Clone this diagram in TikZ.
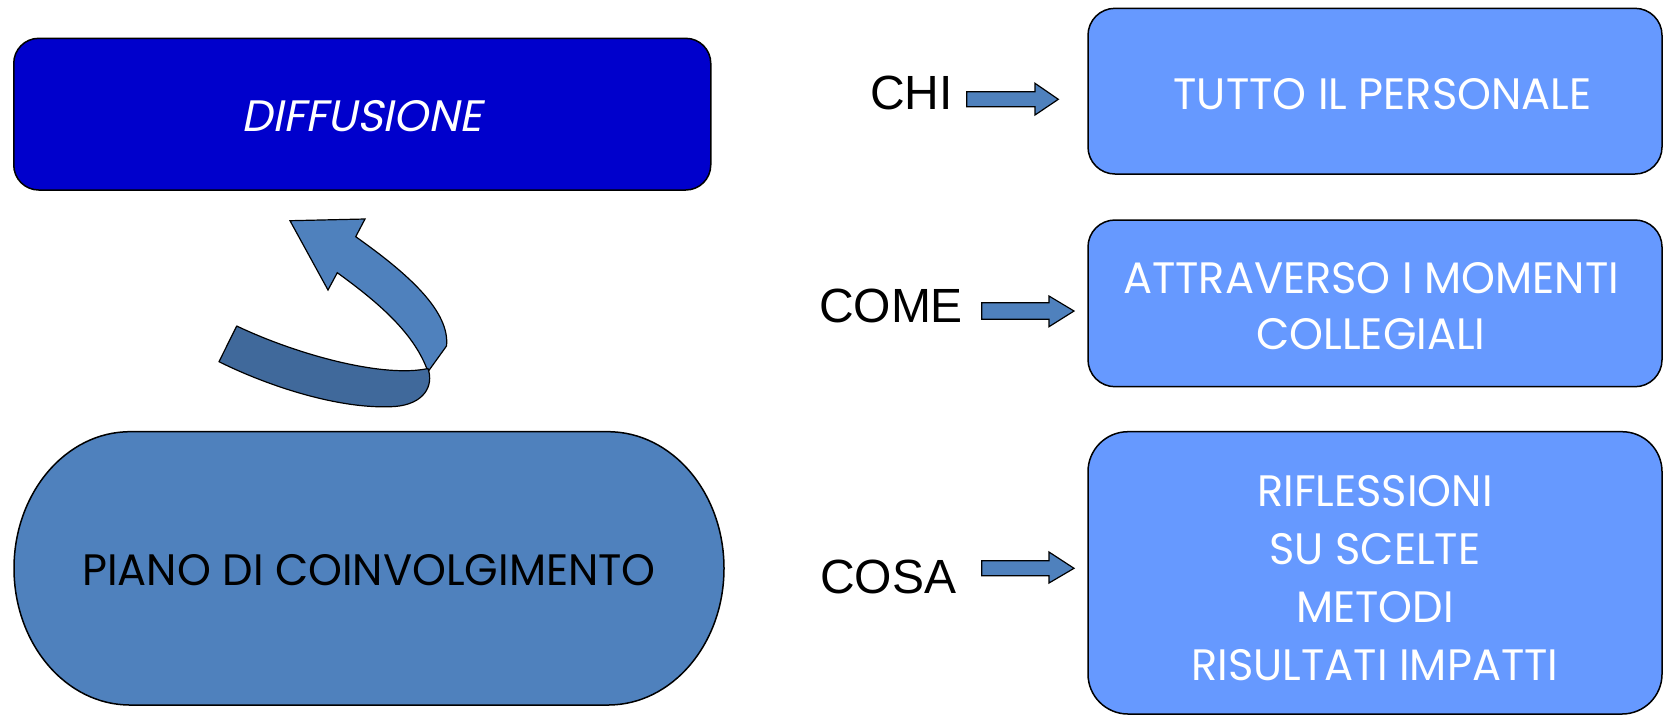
\documentclass[tikz,border=0pt]{standalone}
\usepackage{fontspec}
\setmainfont{Liberation Sans}
\newfontfamily\futfont{Poppins}[FakeStretch=0.98]
\newfontfamily\futitfont{Poppins}[FakeStretch=1.0,FakeSlant=0.2]
\definecolor{darkblue}{HTML}{0000CC}
\definecolor{midblue}{HTML}{4F81BD}
\definecolor{lightblue}{HTML}{6699FF}
\definecolor{ribbon}{HTML}{40699B}
\tikzset{
  rbox/.style={draw=black, line width=1.5pt, rounded corners=27pt, fill=lightblue, inner sep=0pt},
  lbl/.style={font=\fontsize{48}{58}\selectfont, text=black, inner sep=0pt},
  wtxt/.style={font=\futfont\fontsize{44}{57.8}\selectfont, text=white, inner sep=0pt, align=center},
  blockarrow/.style={draw=black, line width=1.2pt, fill=midblue, line join=miter},
  shapeline/.style={draw=black, line width=1.5pt},
}
\begin{document}
\begin{tikzpicture}[x=1pt,y=-1pt]
\useasboundingbox (0,0) rectangle (1669,716);

% DIFFUSIONE box
\node[rbox, fill=darkblue, rounded corners=25pt, minimum width=697pt, minimum height=151.7pt] (diff) at (362.25,114.15) {};
\node[wtxt, font=\futitfont\fontsize{44}{57.8}\selectfont] (difft) at (361.5,115.7) {DIFFUSIONE};

% PIANO DI COINVOLGIMENTO stadium
\draw[shapeline, fill=midblue] (130,431.7) coordinate (pA) -- (608,431.7)
  arc[start angle=-90, end angle=90, x radius=116, y radius=136.65]
  -- (130,705) arc[start angle=90, end angle=270, x radius=116, y radius=136.65] -- cycle;
\node[wtxt, text=black, font=\futfont\fontsize{44}{57.8}\selectfont] (piano) at (369,570) {PIANO DI COINVOLGIMENTO};

% curved arrow: upper band with head
\draw[draw=black, line width=1.2pt, fill=midblue, line join=miter]
  (337.3,272.7) -- (328,290) -- (290,220.7) -- (365,219) -- (355.7,236.7)
  .. controls (410,275) and (450,312) .. (446.5,346)
  -- (428,371.7)
  .. controls (415,335) and (382,305) .. (337.3,272.7) -- cycle;
% curved arrow: lower band
\draw[draw=black, line width=1.2pt, fill=ribbon, line join=round]
  (236.7,326) .. controls (300,356) and (385,378) .. (428,368.5)
  .. controls (434,386) and (424,404) .. (395,406.5)
  .. controls (340,410) and (268,386) .. (219,361.7) -- cycle;

% right boxes
\node[rbox, minimum width=574pt, minimum height=165.7pt] (b1) at (1375,91.15) {};
\node[rbox, minimum width=574pt, minimum height=166.7pt] (b2) at (1375,303.35) {};
\node[rbox, rounded corners=40pt, minimum width=574pt, minimum height=282.3pt] (b3) at (1375,572.85) {};

\node[wtxt] (t1) at (1382.5,94) {TUTTO IL PERSONALE};
\node[wtxt, font=\futfont\fontsize{44}{56.3}\selectfont] (t2) at (1371,306) {ATTRAVERSO I MOMENTI\\COLLEGIALI};
\node[wtxt] (t3) at (1375,578) {RIFLESSIONI\\SU SCELTE\\METODI\\RISULTATI IMPATTI};

% labels
\node[lbl] (chi) at (911.5,92.5) {CHI};
\node[lbl] (come) at (891,305.5) {COME};
\node[lbl] (cosa) at (888.3,576.5) {COSA};

% block arrows
\draw[blockarrow] (966.7,91.7) -- (1035,91.7) -- (1035,83.3) -- (1058.3,99.3) -- (1035,115) -- (1035,106.7) -- (966.7,106.7) -- cycle;
\draw[blockarrow] (981.7,302.7) -- (1049,302.7) -- (1049,296) -- (1074,311) -- (1049,326.7) -- (1049,319.3) -- (981.7,319.3) -- cycle;
\draw[blockarrow] (981.7,560.7) -- (1049,560.7) -- (1049,552) -- (1074,568.3) -- (1049,583) -- (1049,575.7) -- (981.7,575.7) -- cycle;
\end{tikzpicture}
\end{document}
